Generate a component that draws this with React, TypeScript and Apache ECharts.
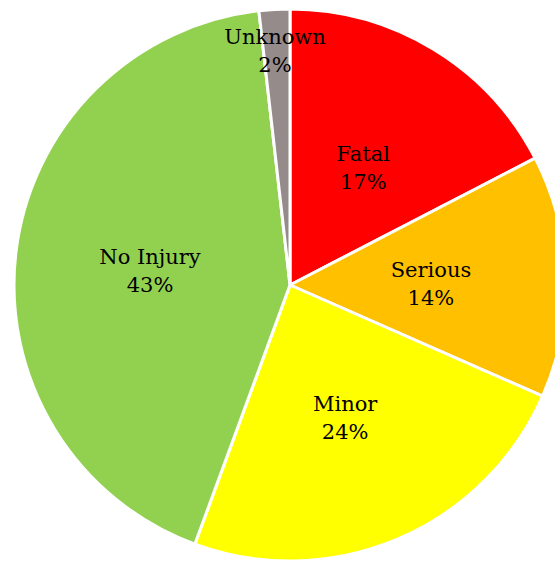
import React, { useEffect, useRef } from "react";
import * as echarts from "echarts";

const categories = ["Fatal", "Serious", "Minor", "No Injury", "Unknown"];
const values = [17.4, 14.2, 24.0, 42.6, 1.8];
const colors = ["#FF0000", "#FFC000", "#FFFF00", "#92D050", "#968B8B"];

export default function App() {
  const ref = useRef<HTMLDivElement>(null);
  useEffect(() => {
    if (!ref.current) return;
    const chart = echarts.init(ref.current, null, { renderer: "svg" });
    chart.setOption({
      animation: false,
      series: [
        {
          type: "pie",
          center: [290, 285],
          radius: 276,
          startAngle: 90,
          clockwise: true,
          percentPrecision: 0,
          label: {
            show: true,
            position: "inner",
            formatter: "{b}\n{d}%",
            fontFamily: "DejaVu Serif",
            fontSize: 21,
            lineHeight: 28,
            color: "#000",
            offset: [0, 3],
          },
          labelLine: { show: false },
          itemStyle: { borderColor: "#fff", borderWidth: 3 },
          emphasis: { disabled: true },
          data: categories.map((name, i) => ({
            name,
            value: values[i],
            itemStyle: { color: colors[i] },
            label: name === "Unknown" ? { offset: [-7, -93] } : undefined,
          })),
        },
      ],
    });
    return () => chart.dispose();
  }, []);
  return (
    <div
      ref={ref}
      style={{ position: "absolute", left: 0, top: 0, width: 555, height: 561 }}
    />
  );
}
